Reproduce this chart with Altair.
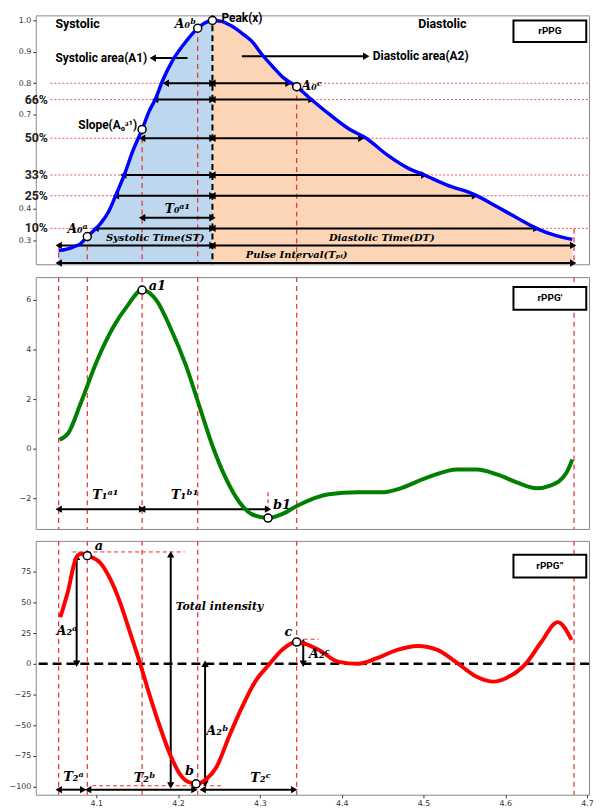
import altair as alt
import pandas as pd

# ---------------- shared time axis ----------------
T_MIN, T_MAX = 4.026, 4.7024
x_ticks = [4.1, 4.2, 4.3, 4.4, 4.5, 4.6, 4.7]
W = 558
H1, H2, H3 = 251, 254, 256
SANS = "Roboto"
SERIF = "DejaVu Serif"

# fiducial time points (red dashed verticals)
fiducial_t = [4.054, 4.089, 4.156, 4.224, 4.345, 4.684]

# ---------------- panel 1 : rPPG ----------------
ppg_t = [4.054, 4.062, 4.071, 4.081, 4.089, 4.105, 4.115, 4.123, 4.135, 4.145,
         4.156, 4.165, 4.172, 4.181, 4.193, 4.210, 4.224, 4.232, 4.242, 4.253,
         4.266, 4.281, 4.290, 4.302, 4.315, 4.329, 4.345, 4.359, 4.384, 4.408,
         4.430, 4.456, 4.481, 4.501, 4.529, 4.563, 4.590, 4.614, 4.638, 4.662, 4.682]
ppg_v = [0.268, 0.271, 0.278, 0.290, 0.312, 0.353, 0.391, 0.438, 0.514, 0.587,
         0.653, 0.713, 0.748, 0.808, 0.871, 0.934, 0.975, 0.991, 1.000, 0.997,
         0.981, 0.953, 0.934, 0.893, 0.855, 0.817, 0.789, 0.757, 0.703, 0.656,
         0.625, 0.571, 0.530, 0.508, 0.476, 0.445, 0.407, 0.372, 0.338, 0.315, 0.303]
peak_t = 4.242
p1_ydom = [0.224, 1.016]
p1_yticks = [0.3, 0.4, 0.7, 0.8, 0.9, 1.0]

level_v = [0.800, 0.748, 0.625, 0.508, 0.442, 0.338]
level_left_t = [4.185, 4.172, 4.156, 4.133, 4.124, 4.099]
level_right_t = [4.335, 4.363, 4.424, 4.501, 4.563, 4.638]
pct_labels = ["66%", "50%", "33%", "25%", "10%"]
pct_v = [0.748, 0.625, 0.508, 0.442, 0.338]
p1_drop_v = [0.290, 0.312, 0.653, 0.975, 0.789, 0.338]
p1_mark_t = [4.089, 4.156, 4.224, 4.242, 4.345]
p1_mark_v = [0.312, 0.653, 0.975, 1.000, 0.789]

p1_sans_left = [("Systolic area(A1)", 4.050, 0.880), ("Diastolic area(A2)", 4.438, 0.886),
                ("Peak(x)", 4.253, 1.007)]
p1_sans_big_left = [("Systolic", 4.050, 0.990)]
p1_sans_big_center = [("Diastolic", 4.523, 0.990)]
p1_sans_right = [("Slope(A₀ᵃ¹)", 4.150, 0.666)]
p1_sym_center = [("A₀ᵇ", 4.209, 0.990), ("A₀ᵃ", 4.077, 0.336), ("T₀ᵃ¹", 4.199, 0.399)]
p1_sym_left = [("A₀ᶜ", 4.351, 0.792)]
p1_math_center = [("Systolic Time(ST)", 4.172, 0.309), ("Diastolic Time(DT)", 4.449, 0.309),
                  ("Pulse Interval(Tₚᵢ)", 4.345, 0.252)]
p1_box = (4.610, 4.699, 0.931, 1.000, "rPPG")

p1_arrows = ([(l, v, peak_t, v, True, True) for l, v in zip(level_left_t, level_v)] +
             [(peak_t, v, r, v, True, True) for r, v in zip(level_right_t, level_v)] +
             [(4.156, 0.372, peak_t, 0.372, True, True),
              (4.054, 0.284, peak_t, 0.284, True, True),
              (peak_t, 0.284, 4.683, 0.284, True, True),
              (4.054, 0.228, 4.683, 0.228, True, True),
              (4.169, 0.880, 4.2115, 0.880, True, False),
              (4.278, 0.886, 4.430, 0.886, False, True)])

# ---------------- panel 2 : rPPG' ----------------
d1_t = [4.055, 4.066, 4.081, 4.101, 4.121, 4.138, 4.156, 4.174, 4.190, 4.210,
        4.226, 4.242, 4.259, 4.275, 4.290, 4.310, 4.327, 4.347, 4.384, 4.420,
        4.450, 4.468, 4.505, 4.541, 4.565, 4.590, 4.614, 4.638, 4.656, 4.675, 4.682]
d1_v = [0.36, 0.64, 1.84, 3.56, 4.92, 5.76, 6.40, 5.96, 4.92, 3.32,
        1.72, 0.12, -1.24, -2.16, -2.64, -2.80, -2.64, -2.28, -1.84, -1.76,
        -1.76, -1.64, -1.16, -0.84, -0.84, -1.04, -1.36, -1.60, -1.48, -0.96, -0.44]
p2_ydom = [-3.24, 6.92]
p2_yticks = [-2, 0, 2, 4, 6]
p2_mark_t = [4.156, 4.310]
p2_mark_v = [6.40, -2.80]
p2_sym_left = [("a1", 4.164, 6.58), ("b1", 4.316, -2.28)]
p2_sym_center = [("T₁ᵃ¹", 4.111, -1.86), ("T₁ᵇ¹", 4.208, -1.86)]
p2_box = (4.610, 4.699, 5.60, 6.52, "rPPG'")
p2_arrows = [(4.054, -2.44, 4.156, -2.44, True, True),
             (4.156, -2.44, 4.310, -2.44, True, True)]

# ---------------- panel 3 : rPPG'' ----------------
d2_t = [4.056, 4.065, 4.075, 4.081, 4.089, 4.105, 4.117, 4.129, 4.141, 4.153,
        4.165, 4.178, 4.190, 4.202, 4.212, 4.222, 4.235, 4.247, 4.262, 4.278,
        4.295, 4.311, 4.327, 4.345, 4.372, 4.396, 4.420, 4.444, 4.468, 4.493,
        4.517, 4.541, 4.565, 4.586, 4.602, 4.626, 4.644, 4.664, 4.681]
d2_v = [37.9, 58.0, 85.5, 89.5, 88.0, 82.0, 69.0, 50.0, 26.0, 1.6,
        -25.0, -51.6, -73.4, -89.5, -96.0, -97.6, -93.5, -83.9, -59.7, -35.5,
        -13.7, -0.8, 11.3, 17.7, 11.3, 1.6, 0.0, 4.8, 11.3, 14.5,
        11.3, 0.8, -10.5, -14.5, -11.3, 0.8, 17.7, 33.9, 19.4]
p3_ydom = [-106.5, 100.0]
p3_yticks = [-100, -75, -50, -25, 0, 25, 50, 75]
p3_mark_t = [4.089, 4.222, 4.345]
p3_mark_v = [88.0, -97.6, 17.7]
p3_guides = [(4.071, 4.208, 91.0), (4.095, 4.253, -99.2), (4.345, 4.372, 20.0)]
p3_sym_left = [("a", 4.098, 95.5), ("A₂ᶜ", 4.360, 8.0)]
p3_sym_center = [("b", 4.214, -87.0), ("c", 4.335, 26.0), ("A₂ᵃ", 4.064, 27.0),
                 ("A₂ᵇ", 4.248, -55.0), ("T₂ᵃ", 4.072, -92.0), ("T₂ᵇ", 4.159, -93.0),
                 ("T₂ᶜ", 4.301, -93.0)]
p3_math_left = [("Total intensity", 4.197, 46.0)]
p3_box = (4.610, 4.699, 70.2, 88.7, "rPPG”")
p3_arrows = [(4.076, 87.0, 4.076, 0.0, True, True),
             (4.191, 89.0, 4.191, -99.0, True, True),
             (4.233, 0.0, 4.233, -97.6, True, True),
             (4.353, 17.7, 4.353, 0.0, True, True),
             (4.054, -102.4, 4.084, -102.4, True, True),
             (4.090, -102.4, 4.220, -102.4, True, True),
             (4.230, -102.4, 4.342, -102.4, True, True)]

YDOMS = {1: p1_ydom, 2: p2_ydom, 3: p3_ydom}
YTICKS = {1: p1_yticks, 2: p2_yticks, 3: p3_yticks}


def ax_x(p):
    if p != 3:
        return None
    return alt.Axis(values=x_ticks, format=".1f", labelPadding=2)


def ax_y(p):
    fmt = ".1f" if p == 1 else "d"
    return alt.Axis(values=YTICKS[p], format=fmt,
                    labelExpr="replace(datum.label, '-', '−')")


def X(field, p):
    return alt.X(field, type="quantitative",
                 scale=alt.Scale(domain=[T_MIN, T_MAX], nice=False, zero=False),
                 axis=ax_x(p), title=None)


def Y(field, p):
    return alt.Y(field, type="quantitative",
                 scale=alt.Scale(domain=YDOMS[p], nice=False, zero=False),
                 axis=ax_y(p), title=None)


def text_layer(rows, p, align="center", font=SANS, size=11, weight="bold", style="normal"):
    df = pd.DataFrame(rows, columns=["label", "t", "v"])
    return alt.Chart(df).mark_text(align=align, baseline="middle", font=font, fontSize=size,
                                   fontWeight=weight, fontStyle=style, color="black").encode(
        x=X("t", p), y=Y("v", p), text="label:N")


def arrow_layers(segs, p):
    rules = pd.DataFrame([dict(x1=s[0], y1=s[1], x2=s[2], y2=s[3]) for s in segs])
    heads = []
    for x1, y1, x2, y2, h1, h2 in segs:
        horiz = (y1 == y2)
        if h1:
            heads.append(dict(x=x1, y=y1, shape="triangle-left" if horiz else
                              ("triangle-up" if y1 > y2 else "triangle-down")))
        if h2:
            heads.append(dict(x=x2, y=y2, shape="triangle-right" if horiz else
                              ("triangle-down" if y1 > y2 else "triangle-up")))
    r = alt.Chart(rules).mark_rule(color="black", strokeWidth=2).encode(
        x=X("x1", p), x2="x2:Q", y=Y("y1", p), y2="y2:Q")
    h = alt.Chart(pd.DataFrame(heads)).mark_point(filled=True, color="black", opacity=1, size=55).encode(
        x=X("x", p), y=Y("y", p), shape=alt.Shape("shape:N", scale=None, legend=None))
    return [r, h]


def box_layers(box, p):
    x1, x2, y1, y2, label = box
    df = pd.DataFrame([dict(x1=x1, x2=x2, y1=y1, y2=y2, tc=(x1 + x2) / 2, vc=(y1 + y2) / 2, label=label)])
    rect = alt.Chart(df).mark_rect(fill="white", stroke="black", strokeWidth=2).encode(
        x=X("x1", p), x2="x2:Q", y=Y("y1", p), y2="y2:Q")
    txt = alt.Chart(df).mark_text(font=SANS, fontWeight="bold", fontSize=10, color="black").encode(
        x=X("tc", p), y=Y("vc", p), text="label:N")
    return [rect, txt]


def markers(ts, vs, p):
    df = pd.DataFrame(dict(t=ts, v=vs))
    return alt.Chart(df).mark_point(shape="circle", filled=True, fill="white", stroke="black",
                                    strokeWidth=1.5, size=65, opacity=1).encode(x=X("t", p), y=Y("v", p))


RED = "#ee2a2a"

# ---------- panel 1 ----------
ppg = pd.DataFrame(dict(t=ppg_t, v=ppg_v))
ppg["base"] = p1_ydom[0]
sys_df = ppg[ppg.t <= peak_t]
dia_df = ppg[ppg.t >= peak_t]
area_sys = alt.Chart(sys_df).mark_area(color="#bdd7ee", opacity=1, interpolate="monotone").encode(
    x=X("t", 1), y=Y("v", 1), y2="base:Q")
area_dia = alt.Chart(dia_df).mark_area(color="#fbd5b5", opacity=1, interpolate="monotone").encode(
    x=X("t", 1), y=Y("v", 1), y2="base:Q")
hl = pd.DataFrame(dict(v=level_v, t1=[4.044] * len(level_v), t2=[T_MAX] * len(level_v)))
hlines = alt.Chart(hl).mark_rule(color=RED, strokeWidth=1, strokeDash=[2, 2], opacity=0.8).encode(
    x=X("t1", 1), x2="t2:Q", y=Y("v", 1))
vd = pd.DataFrame(dict(t=fiducial_t, v=p1_drop_v, base=[p1_ydom[0]] * len(fiducial_t)))
vlines1 = alt.Chart(vd).mark_rule(color=RED, strokeWidth=1.2, strokeDash=[5, 4]).encode(
    x=X("t", 1), y=Y("v", 1), y2="base:Q")
peak_line = alt.Chart(pd.DataFrame(dict(t=[peak_t], v1=[p1_ydom[1]], v2=[p1_ydom[0]]))).mark_rule(
    color="black", strokeWidth=2, strokeDash=[6, 4]).encode(x=X("t", 1), y=Y("v1", 1), y2="v2:Q")
line1 = alt.Chart(ppg).mark_line(color="#0000ff", strokeWidth=3.5, interpolate="monotone").encode(
    x=X("t", 1), y=Y("v", 1))
pct = pd.DataFrame(dict(label=pct_labels, t=[4.041] * len(pct_labels), v=pct_v))
pct_text = alt.Chart(pct).mark_text(align="right", baseline="middle", font=SANS, fontSize=12.5,
                                    fontWeight="bold", color="#222").encode(
    x=X("t", 1), y=Y("v", 1), text="label:N")

p1 = alt.layer(
    area_sys, area_dia, hlines, vlines1, peak_line,
    *arrow_layers(p1_arrows, 1), line1, markers(p1_mark_t, p1_mark_v, 1), pct_text,
    text_layer(p1_sans_left, 1, align="left", size=12),
    text_layer(p1_sans_big_left, 1, align="left", size=12.5),
    text_layer(p1_sans_big_center, 1, align="center", size=12.5),
    text_layer(p1_sans_right, 1, align="right", size=12),
    text_layer(p1_sym_center, 1, align="center", font=SERIF, size=12.5, style="italic"),
    text_layer(p1_sym_left, 1, align="left", font=SERIF, size=12.5, style="italic"),
    text_layer(p1_math_center, 1, align="center", font=SERIF, size=10, style="italic"),
    *box_layers(p1_box, 1)
).properties(width=W, height=H1)

# ---------- panel 2 ----------
vall = pd.DataFrame(dict(t=fiducial_t))
vlines2 = alt.Chart(vall).mark_rule(color=RED, strokeWidth=1.2, strokeDash=[5, 4]).encode(x=X("t", 2))
b1_guide = alt.Chart(pd.DataFrame(dict(t=[4.310], v1=[-1.76], v2=[-2.8]))).mark_rule(
    color=RED, strokeWidth=1.2, strokeDash=[4, 3]).encode(x=X("t", 2), y=Y("v1", 2), y2="v2:Q")
line2 = alt.Chart(pd.DataFrame(dict(t=d1_t, v=d1_v))).mark_line(
    color="#008000", strokeWidth=4, interpolate="monotone").encode(x=X("t", 2), y=Y("v", 2))
p2 = alt.layer(
    vlines2, b1_guide, *arrow_layers(p2_arrows, 2), line2, markers(p2_mark_t, p2_mark_v, 2),
    text_layer(p2_sym_left, 2, align="left", font=SERIF, size=13, style="italic"),
    text_layer(p2_sym_center, 2, align="center", font=SERIF, size=13, style="italic"),
    *box_layers(p2_box, 2)
).properties(width=W, height=H2)

# ---------- panel 3 ----------
vlines3 = alt.Chart(vall).mark_rule(color=RED, strokeWidth=1.2, strokeDash=[5, 4]).encode(x=X("t", 3))
gd = pd.DataFrame(p3_guides, columns=["t1", "t2", "v"])
guides3 = alt.Chart(gd).mark_rule(color=RED, strokeWidth=1, strokeDash=[4, 3]).encode(
    x=X("t1", 3), x2="t2:Q", y=Y("v", 3))
zero = alt.Chart(pd.DataFrame(dict(v=[0.0]))).mark_rule(
    color="black", strokeWidth=2.5, strokeDash=[9, 5]).encode(y=Y("v", 3))
line3 = alt.Chart(pd.DataFrame(dict(t=d2_t, v=d2_v))).mark_line(
    color="#ff0000", strokeWidth=4, interpolate="monotone").encode(x=X("t", 3), y=Y("v", 3))
p3 = alt.layer(
    vlines3, guides3, zero, *arrow_layers(p3_arrows, 3), line3, markers(p3_mark_t, p3_mark_v, 3),
    text_layer(p3_sym_left, 3, align="left", font=SERIF, size=13, style="italic"),
    text_layer(p3_sym_center, 3, align="center", font=SERIF, size=13, style="italic"),
    text_layer(p3_math_left, 3, align="left", font=SERIF, size=11, style="italic"),
    *box_layers(p3_box, 3)
).properties(width=W, height=H3)

chart = alt.vconcat(p1, p2, p3, spacing=8).properties(
    padding={"left": 0, "top": 0, "right": 0, "bottom": 0}
).configure_view(
    stroke="#888888", strokeWidth=1
).configure_axis(
    labelFont="DejaVu Sans", labelFontSize=8, labelColor="#333333", tickColor="#333333",
    tickSize=3, domain=False, grid=False
).configure_axisY(minExtent=27, maxExtent=27)

chart.save("out.html", embed_options={"renderer": "svg", "actions": False})
